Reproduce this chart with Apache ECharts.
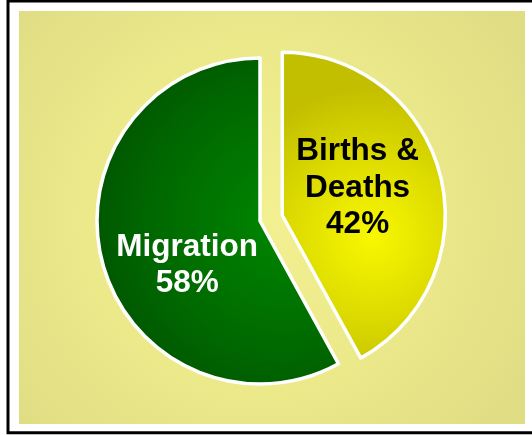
<!DOCTYPE html>
<html>
<head>
<meta charset="utf-8">
<script src="https://cdn.jsdelivr.net/npm/echarts@6/dist/echarts.min.js"></script>
<style>
html,body{margin:0;padding:0;background:#fff;overflow:hidden;}
#chart{width:532px;height:435px;}
</style>
</head>
<body>
<div id="chart"></div>
<script>
var categories = ['Migration', 'Births &\nDeaths'];
var values = [58, 42];
var percentLabels = ['58%', '42%'];

var chart = echarts.init(document.getElementById('chart'), null, {renderer: 'canvas'});

var font = '"Liberation Sans", Arial, sans-serif';
var labelShift = [[9, 23.5], [-6.5, -6]];

var option = {
  animation: false,
  backgroundColor: '#ffffff',
  graphic: [
    {
      type: 'polyline', z: -10, silent: true,
      shape: {points: [[540, 1], [8, 1], [8, 432.7], [540, 432.7]]},
      style: {fill: null, stroke: '#000000', lineWidth: 3}
    },
    {
      type: 'rect', z: -9, silent: true,
      shape: {x: 19, y: 11, width: 506, height: 413},
      style: {
        fill: new echarts.graphic.RadialGradient(0.47, 0.5, 0.75, [
          {offset: 0, color: '#f3f092'},
          {offset: 0.55, color: '#ece98b'},
          {offset: 1, color: '#e0dd84'}
        ])
      }
    }
  ],
  series: [{
    type: 'pie',
    center: [260, 221],
    radius: [0, 163],
    startAngle: 90,
    clockwise: false,
    selectedMode: 'single',
    selectedOffset: 23,
    silent: true,
    emphasis: {disabled: true},
    itemStyle: {borderColor: '#ffffff', borderWidth: 3.5},
    label: {
      show: true,
      position: 'inside',
      fontFamily: font,
      fontWeight: 'bold',
      fontSize: 31.5,
      lineHeight: 36.5,
      align: 'center'
    },
    labelLayout: function (params) {
      var s = labelShift[params.dataIndex];
      return {dx: s[0], dy: s[1]};
    },
    labelLine: {show: false},
    data: [
      {
        name: categories[0], value: values[0],
        itemStyle: {
          color: new echarts.graphic.RadialGradient(0.77, 0.5, 0.95, [
            {offset: 0, color: '#008700'},
            {offset: 0.6, color: '#006600'},
            {offset: 1, color: '#004a00'}
          ])
        },
        label: {
          color: '#ffffff',
          formatter: categories[0] + '\n' + percentLabels[0]
        }
      },
      {
        name: categories[1], value: values[1], selected: true,
        itemStyle: {
          color: new echarts.graphic.RadialGradient(0.55, 0.6, 0.9, [
            {offset: 0, color: '#f8f800'},
            {offset: 0.55, color: '#dcda00'},
            {offset: 1, color: '#c2be00'}
          ])
        },
        label: {
          color: '#000000',
          formatter: categories[1] + '\n' + percentLabels[1]
        }
      }
    ]
  }]
};
chart.setOption(option);
</script>
</body>
</html>
